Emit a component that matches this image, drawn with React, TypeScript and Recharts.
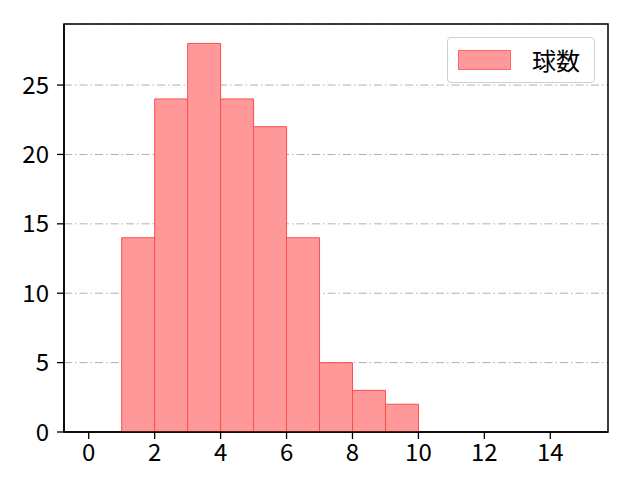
import { BarChart, Bar, XAxis, YAxis, CartesianGrid, ReferenceArea } from "recharts"

const binStarts = [1, 2, 3, 4, 5, 6, 7, 8, 9]
const counts = [14, 24, 28, 24, 22, 14, 5, 3, 2]
const xTicks = [0, 2, 4, 6, 8, 10, 12, 14]
const yTicks = [0, 5, 10, 15, 20, 25]
const seriesName = "球数"

const data = binStarts.map((s, i) => ({ center: s + 0.5, count: counts[i] }))

const FONT = "'Noto Sans CJK JP', 'DejaVu Sans', sans-serif"

function LegendBox() {
  return (
    <div
      style={{
        position: "absolute",
        left: 447,
        top: 37,
        display: "flex",
        alignItems: "center",
        border: "1px solid #d0d0d0",
        borderRadius: 4,
        background: "#fff",
        width: 148,
        height: 46,
        boxSizing: "border-box",
        paddingLeft: 10,
      }}
    >
      <div style={{ width: 53, height: 20, background: "#ff9999", border: "1px solid #ff6666", boxSizing: "border-box" }} />
      <span style={{ marginLeft: 21, fontSize: 24, lineHeight: "24px", fontFamily: FONT, color: "#000" }}>{seriesName}</span>
    </div>
  )
}

export default function App() {
  return (
    <div style={{ position: "absolute", left: 0, top: 0, width: 640, height: 480, background: "#fff", fontFamily: FONT }}>
      <BarChart
        width={640}
        height={480}
        data={data}
        margin={{ top: 24, right: 32, bottom: 0, left: 0 }}
        barCategoryGap={0}
      >
        <XAxis
          dataKey="center"
          type="number"
          domain={[-0.75, 15.75]}
          ticks={xTicks}
          allowDataOverflow
          height={48}
          tickSize={7}
          tickMargin={5}
          axisLine={{ stroke: "#000", strokeWidth: 1.5 }}
          tickLine={{ stroke: "#000", strokeWidth: 1.3 }}
          tick={{ fill: "#000", fontSize: 24, fontFamily: FONT }}
        />
        <YAxis
          type="number"
          domain={[0, 29.4]}
          ticks={yTicks}
          allowDataOverflow
          width={64}
          tickSize={7}
          tickMargin={8}
          axisLine={{ stroke: "#000", strokeWidth: 1.5 }}
          tickLine={{ stroke: "#000", strokeWidth: 1.3 }}
          tick={{ fill: "#000", fontSize: 24, fontFamily: FONT }}
        />
        <Bar
          dataKey="count"
          name={seriesName}
          fill="#ff9999"
          stroke="#ff4d4d"
          strokeWidth={1}
          isAnimationActive={false}
        />
        <CartesianGrid vertical={false} stroke="#b0b0b0" strokeDasharray="8 3 1.5 3" />
        <ReferenceArea x1={-0.75} x2={15.75} y1={0} y2={29.4} fill="none" stroke="#000" strokeWidth={1.5} ifOverflow="visible" />
      </BarChart>
      <LegendBox />
    </div>
  )
}
